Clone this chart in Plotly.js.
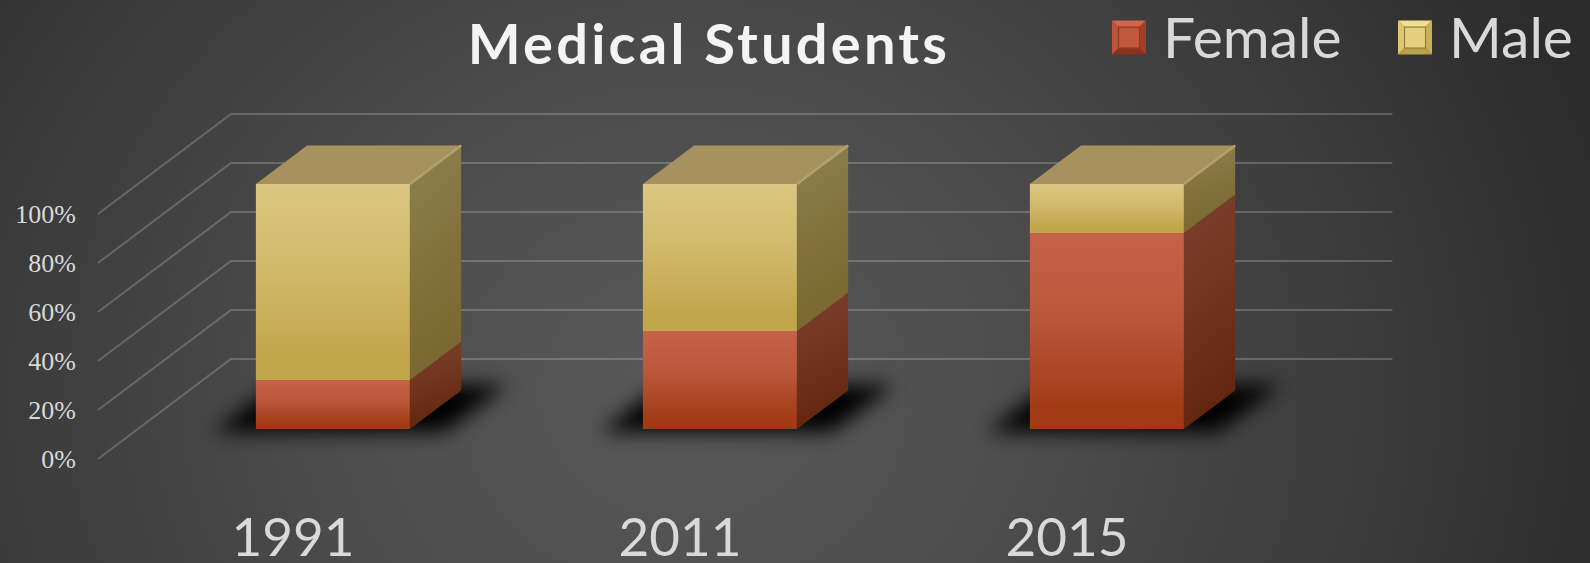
<!DOCTYPE html>
<html>
<head>
<meta charset="utf-8">
<script src="https://cdn.plot.ly/plotly-3.0.1.min.js"></script>
<style>
html,body{margin:0;padding:0;width:1590px;height:563px;overflow:hidden;background:#3a3a3a}
#chart{width:1590px;height:563px;background:radial-gradient(ellipse 60% 150% at 43% 70%,#595959 0%,#4b4b4b 40%,#3b3b3b 72%,#2c2c2c 100%)}
</style>
</head>
<body>
<div id="chart"></div>
<script>
// ---- data ----
const years = ['1991', '2011', '2015'];
const female = [20, 40, 80];
const male = [80, 60, 20];
const yTicks = [0, 20, 40, 60, 80, 100];
const titleText = 'Medical Students';

// ---- 3D projection (data units per unit of depth) ----
const depthX = 0.3437, depthY = 40.8;
const barWidth = 0.398, barDepthStart = 0.30, barDepthEnd = 0.685;
const wallLeft = -0.504, wallRight = 2.497;
const ax = (x, d) => x + d * depthX;
const ay = (v, d) => v + d * depthY;
const xPos = years.map((_, i) => i);

const traces = [];
// gridlines on the wall and floor
const gx = [], gy = [];
yTicks.forEach(t => {
  gx.push(wallLeft, ax(wallLeft, 1), ax(wallRight, 1), null);
  gy.push(ay(t, 0), ay(t, 1), ay(t, 1), null);
});
traces.push({type:'scatter', mode:'lines', x:gx, y:gy, line:{color:'rgba(255,255,255,0.2)', width:2}, showlegend:false, hoverinfo:'skip', xaxis:'x', yaxis:'y'});
// floor shadows
xPos.forEach((x, i) => {
  const l = x - barWidth/2, r = x + barWidth/2;
  const d0 = barDepthStart - 0.03, d1 = barDepthEnd + 0.06;
  traces.push({type:'scatter', mode:'none', fill:'toself', uid:'shadow'+i, fillcolor:'#000',
    x:[ax(l-0.1,d0), ax(l-0.1,d1), ax(r+0.1,d1), ax(r+0.1,d0)],
    y:[ay(0,d0), ay(0,d1), ay(0,d1), ay(0,d0)],
    showlegend:false, hoverinfo:'skip', xaxis:'x', yaxis:'y'});
});
// front faces
const barX = xPos.map(x => ax(x, barDepthStart));
const lift = ay(0, barDepthStart);
traces.push({type:'bar', name:'Female', x:barX, y:female, base:female.map(() => lift), width:barWidth, marker:{color:'#b8492c'}, xaxis:'x2', yaxis:'y2', hoverinfo:'skip'});
traces.push({type:'bar', name:'Male', x:barX, y:male, base:female.map(f => lift + f), width:barWidth, marker:{color:'#d0b862'}, xaxis:'x2', yaxis:'y2', hoverinfo:'skip'});
// side faces and tops
xPos.forEach((x, i) => {
  const r = x + barWidth/2, l = x - barWidth/2;
  const d0 = barDepthStart, d1 = barDepthEnd;
  const f = female[i], t = female[i] + male[i];
  traces.push({type:'scatter', mode:'none', fill:'toself', uid:'sideF'+i, fillcolor:'#6e2f17',
    x:[ax(r,d0),ax(r,d1),ax(r,d1),ax(r,d0)], y:[ay(0,d0),ay(0,d1),ay(f,d1),ay(f,d0)],
    showlegend:false, hoverinfo:'skip', xaxis:'x2', yaxis:'y2'});
  traces.push({type:'scatter', mode:'none', fill:'toself', uid:'sideM'+i, fillcolor:'#85743f',
    x:[ax(r,d0),ax(r,d1),ax(r,d1),ax(r,d0)], y:[ay(f,d0),ay(f,d1),ay(t,d1),ay(t,d0)],
    showlegend:false, hoverinfo:'skip', xaxis:'x2', yaxis:'y2'});
  traces.push({type:'scatter', mode:'none', fill:'toself', uid:'top'+i, fillcolor:'#a5925f',
    x:[ax(l,d0),ax(l,d1),ax(r,d1),ax(r,d0)], y:[ay(t,d0),ay(t,d1),ay(t,d1),ay(t,d0)],
    showlegend:false, hoverinfo:'skip', xaxis:'x2', yaxis:'y2'});
  traces.push({type:'scatter', mode:'lines', line:{color:'#b3a16b', width:2.5},
    x:[ax(r,d0),ax(r,d1)], y:[ay(t,d0),ay(t,d1)],
    showlegend:false, hoverinfo:'skip', xaxis:'x2', yaxis:'y2'});
});

const textColor = '#d9d9d9';
const plotL = 77, plotR = 1440, plotT = 90, plotB = 502;
const xRange = [(plotL-293)/387, (plotR-293)/387], yRange = [(459-plotB)/2.45, (459-plotT)/2.45];
const plotW = plotR - plotL, plotH = plotB - plotT;
const layout = {
  width:1590, height:563,
  margin:{l:plotL, r:1590-plotR, t:plotT, b:563-plotB, pad:0, autoexpand:false},
  paper_bgcolor:'rgba(0,0,0,0)', plot_bgcolor:'rgba(0,0,0,0)',
  barmode:'overlay',
  title:{text:titleText, x:709/1590, xanchor:'center', xref:'container', y:1-44/563, yanchor:'middle', yref:'container',
    font:{family:'Lato', size:56, color:'#f4f4f4', weight:700}},
  xaxis:{range:xRange, tickmode:'array', tickvals:xPos, ticktext:years, showgrid:false, zeroline:false, showline:false, ticks:'',
    tickfont:{family:'Lato', size:53, color:textColor}},
  yaxis:{range:yRange, tickmode:'array', tickvals:yTicks, ticktext:yTicks.map(t => t + '%'), showgrid:false, zeroline:false, showline:false, ticks:'',
    tickfont:{family:'Liberation Serif', size:26, color:textColor}},
  xaxis2:{overlaying:'x', matches:'x', visible:false, range:xRange},
  yaxis2:{overlaying:'y', matches:'y', visible:false, range:yRange},
  legend:{orientation:'h', x:(1095-plotL)/plotW, xanchor:'left', y:1+(plotT+8)/plotH, yanchor:'top', bgcolor:'rgba(0,0,0,0)',
    itemwidth:58, entrywidthmode:'pixels', entrywidth:213, font:{family:'Lato', size:57, color:textColor}, itemclick:false, itemdoubleclick:false}
};

const NS = 'http://www.w3.org/2000/svg';
function el(tag, attrs, parent){const e=document.createElementNS(NS,tag);for(const k in attrs)e.setAttribute(k,attrs[k]);if(parent)parent.appendChild(e);return e;}
function grad(defs,id,stops,x2,y2){
  const g=el('linearGradient',{id:id,x1:0,y1:0,x2:x2===undefined?0:x2,y2:y2===undefined?1:y2},defs);
  stops.forEach(s=>el('stop',{offset:s[0],'stop-color':s[1]},g));
}
const gd=document.getElementById('chart');
Plotly.newPlot(gd,traces,layout,{displayModeBar:false}).then(()=>{
  const svg=gd.querySelector('svg.main-svg');
  const defs=el('defs',{},svg);
  grad(defs,'gFrontF',[[0,'#c56249'],[0.45,'#b9563a'],[0.9,'#a23a15'],[1,'#a13914']]);
  grad(defs,'gFrontM',[[0,'#dcc680'],[0.4,'#d2bb6d'],[0.88,'#c2a64c'],[1,'#c2a64c']]);
  grad(defs,'gSideF',[[0,'#7c3f2d'],[0.45,'#733620'],[1,'#62250e']],0.18,1);
  grad(defs,'gSideM',[[0,'#8e8153'],[0.55,'#82713c'],[1,'#7a6830']],0.18,1);
  const f=el('filter',{id:'blurShadow',x:'-40%',y:'-80%',width:'180%',height:'260%'},defs);
  el('feGaussianBlur',{stdDeviation:'10'},f);
  const setFill=(uid,val)=>{const p=gd.querySelector('.trace'+uid+' .js-fill');if(p)p.style.fill=val;return p;};
  years.forEach((_,i)=>{
    const s=setFill('shadow'+i,'#000');
    if(s){s.setAttribute('filter','url(#blurShadow)');s.style.filter='url(#blurShadow)';}
    setFill('sideF'+i,'url(#gSideF)');
    setFill('sideM'+i,'url(#gSideM)');
  });
  gd.querySelectorAll('.barlayer .trace.bars').forEach((t,k)=>t.querySelectorAll('.point path').forEach(p=>{p.style.fill=k===0?'url(#gFrontF)':'url(#gFrontM)';}));
  const tt=gd.querySelector('.gtitle');
  if(tt){tt.style.letterSpacing='3.2px';}
  // bevelled legend keys
  const bevels=[
    {top:'#d2654b',left:'#c1533a',right:'#a03f27',bottom:'#8e3019',inner:'#c0583e',edge:'#8c3a27'},
    {top:'#f2df8e',left:'#dfc871',right:'#c9b057',bottom:'#baa24a',inner:'#e6d07e',edge:'#8f7f45'}
  ];
  gd.querySelectorAll('.legend .traces').forEach((tr,k)=>{
    const lp=tr.querySelector('.legendpoints');
    if(!lp)return;
    while(lp.firstChild)lp.removeChild(lp.firstChild);
    const g=el('g',{transform:'translate(34,2)'},lp);
    const c=bevels[k],o=17,n=10.5;
    el('path',{d:`M${-o},${-o}H${o}L${n},${-n}H${-n}Z`,style:`fill:${c.top}`},g);
    el('path',{d:`M${-o},${o}H${o}L${n},${n}H${-n}Z`,style:`fill:${c.bottom}`},g);
    el('path',{d:`M${-o},${-o}V${o}L${-n},${n}V${-n}Z`,style:`fill:${c.left}`},g);
    el('path',{d:`M${o},${-o}V${o}L${n},${n}V${-n}Z`,style:`fill:${c.right}`},g);
    el('rect',{x:-n,y:-n,width:2*n,height:2*n,style:`fill:${c.inner};stroke:${c.edge};stroke-width:1.2`},g);
  });
});
</script>
</body>
</html>
